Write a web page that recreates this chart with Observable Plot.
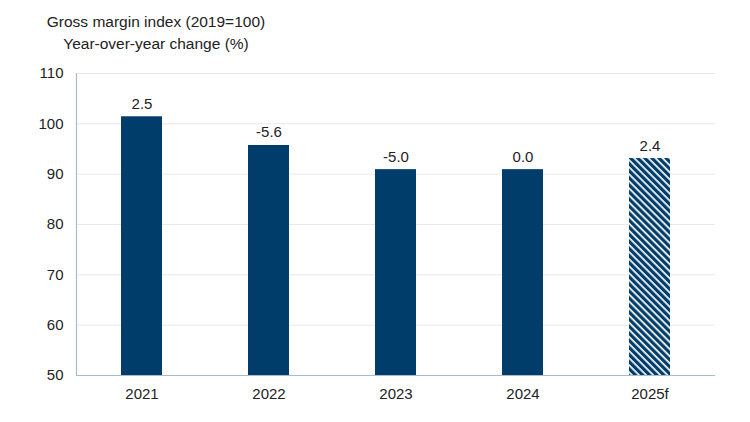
<!DOCTYPE html>
<html>
<head>
<meta charset="utf-8">
<script src="https://cdn.jsdelivr.net/npm/d3@7"></script>
<script src="https://cdn.jsdelivr.net/npm/@observablehq/plot@0.6"></script>
<style>
  html, body { margin: 0; padding: 0; background: #fff; }
  body { width: 750px; height: 422px; overflow: hidden; font-family: "Liberation Sans", Arial, sans-serif; color: #222; }
  #title { position: relative; width: 312px; height: 60px; text-align: center; font-size: 15.5px; line-height: 22px; padding-top: 11px; box-sizing: border-box; }
</style>
</head>
<body>
<div id="title">Gross margin index (2019=100)<br>Year-over-year change (%)</div>
<div id="chart"></div>
<script>
const years = ["2021", "2022", "2023", "2024", "2025f"];
const indexValues = [101.4, 95.7, 90.9, 90.9, 93.1];
const yoyLabels = ["2.5", "-5.6", "-5.0", "0.0", "2.4"];
const forecast = [false, false, false, false, true];
const yTicks = [50, 60, 70, 80, 90, 100, 110];

const data = years.map((y, i) => ({year: y, value: indexValues[i], label: yoyLabels[i], forecast: forecast[i]}));

const navy = "#003d6b";
const chart = Plot.plot({
  width: 750,
  height: 362,
  marginLeft: 76,
  marginRight: 35,
  marginTop: 13,
  marginBottom: 47,
  style: {fontFamily: "Liberation Sans, Arial, sans-serif", fontSize: "15px", color: "#222", background: "#fff"},
  x: {domain: years, paddingInner: 0.68, paddingOuter: 0.34, label: null, tickSize: 0, tickPadding: 13},
  y: {domain: [50, 110], ticks: yTicks, label: null, tickSize: 0, tickPadding: 13},
  marks: [
    Plot.ruleY(yTicks.filter(t => t > 50), {stroke: "#e8e8e8", strokeWidth: 1}),
    Plot.barY(data, {x: "year", y1: 50, y2: "value", fill: d => d.forecast ? "url(#hatch)" : navy}),
    Plot.text(data, {x: "year", y: "value", text: "label", lineAnchor: "bottom", dy: -8, fill: "#222"}),
    Plot.ruleY([50], {stroke: "#a9bccf", strokeWidth: 1.2}),
    Plot.frame({anchor: "left", stroke: "#a9bccf", strokeWidth: 1.2})
  ]
});

const ns = "http://www.w3.org/2000/svg";
const defs = document.createElementNS(ns, "defs");
const pat = document.createElementNS(ns, "pattern");
pat.setAttribute("id", "hatch");
pat.setAttribute("patternUnits", "userSpaceOnUse");
pat.setAttribute("width", "5");
pat.setAttribute("height", "5");
pat.setAttribute("patternTransform", "rotate(45)");
const bg = document.createElementNS(ns, "rect");
bg.setAttribute("width", "5"); bg.setAttribute("height", "5"); bg.setAttribute("fill", navy);
const stripe = document.createElementNS(ns, "rect");
stripe.setAttribute("x", "0"); stripe.setAttribute("y", "0");
stripe.setAttribute("width", "5"); stripe.setAttribute("height", "1.7"); stripe.setAttribute("fill", "#fff");
pat.appendChild(bg); pat.appendChild(stripe);
defs.appendChild(pat);
chart.insertBefore(defs, chart.firstChild);

document.getElementById("chart").appendChild(chart);
</script>
</body>
</html>
